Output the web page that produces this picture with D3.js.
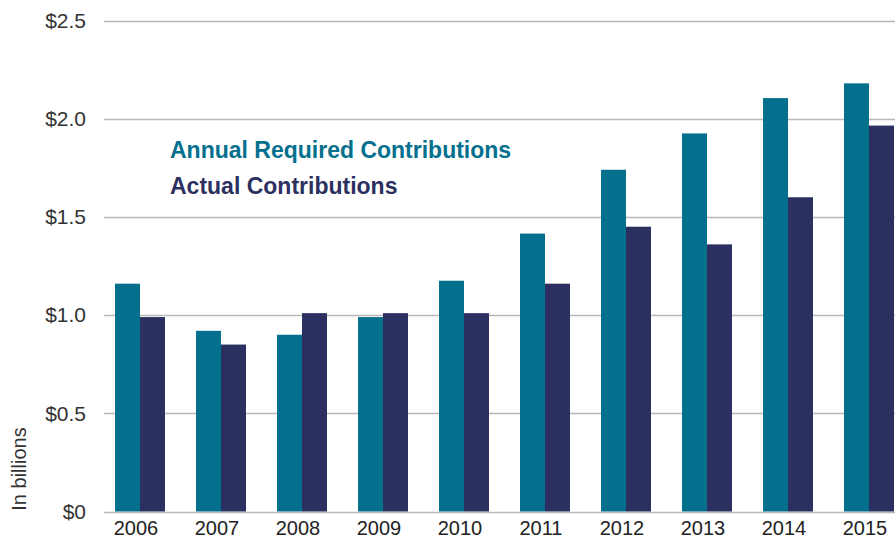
<!DOCTYPE html>
<html>
<head>
<meta charset="utf-8">
<script src="https://cdn.jsdelivr.net/npm/d3@7"></script>
<style>
  body { margin: 0; background: #fff; }
  svg text { font-family: "Liberation Sans", "Helvetica Neue", Arial, sans-serif; }
</style>
</head>
<body>
<div id="chart"></div>
<script>
// values (billions of dollars)
var years = ["2006","2007","2008","2009","2010","2011","2012","2013","2014","2015"];
var required = [1.16, 0.92, 0.90, 0.99, 1.175, 1.415, 1.74, 1.925, 2.105, 2.18];
var actual   = [0.99, 0.85, 1.01, 1.01, 1.01, 1.16, 1.45, 1.36, 1.60, 1.965];
var yTicks = [0, 0.5, 1.0, 1.5, 2.0, 2.5];
var seriesNames = ["Annual Required Contributions", "Actual Contributions"];
var seriesColors = ["#04708e", "#2c3060"];

var W = 895, H = 541;
var svg = d3.select("#chart").append("svg")
  .attr("width", W).attr("height", H);

// scales
var x = d3.scaleBand().domain(years).range([99.5, 909.5])
  .paddingInner(0.383).paddingOuter(0.1915);
var x1 = d3.scaleBand().domain([0, 1]).range([0, x.bandwidth()]);
var y = d3.scaleLinear().domain([0, 2.5]).range([511.5, 20.5]);

// gridlines
svg.append("g").selectAll("line")
  .data(yTicks).enter().append("line")
  .attr("x1", 104).attr("x2", W)
  .attr("y1", function(d) { return Math.round(y(d)) + 0.5; })
  .attr("y2", function(d) { return Math.round(y(d)) + 0.5; })
  .attr("stroke", "#b8b8b8").attr("stroke-width", 1.5);

// y tick labels
svg.append("g").selectAll("text")
  .data(yTicks).enter().append("text")
  .attr("x", 86)
  .attr("y", function(d) { return y(d); })
  .attr("dy", "0.35em")
  .attr("text-anchor", "end")
  .style("font-size", "21px")
  .style("fill", "#333")
  .text(function(d) { return d === 0 ? "$0" : "$" + d.toFixed(1); });

// bars
var groups = svg.append("g").selectAll("g")
  .data(years).enter().append("g")
  .attr("transform", function(d) { return "translate(" + x(d) + ",0)"; });

groups.append("rect")
  .attr("x", x1(0)).attr("width", x1.bandwidth())
  .attr("y", function(d, i) { return y(required[i]); })
  .attr("height", function(d, i) { return y(0) - y(required[i]); })
  .attr("fill", seriesColors[0]);

groups.append("rect")
  .attr("x", x1(1)).attr("width", x1.bandwidth())
  .attr("y", function(d, i) { return y(actual[i]); })
  .attr("height", function(d, i) { return y(0) - y(actual[i]); })
  .attr("fill", seriesColors[1]);

// x labels
svg.append("g").selectAll("text")
  .data(years).enter().append("text")
  .attr("x", function(d) { return x(d) + x.bandwidth() / 2 - 4; })
  .attr("y", 535)
  .attr("text-anchor", "middle")
  .style("font-size", "20px")
  .style("fill", "#222")
  .text(function(d) { return d; });

// axis title
svg.append("text")
  .attr("transform", "translate(26,469) rotate(-90)")
  .attr("text-anchor", "middle")
  .style("font-size", "20px")
  .style("fill", "#333")
  .text("In billions");

// legend (text only)
svg.append("g").selectAll("text")
  .data(seriesNames).enter().append("text")
  .attr("x", 170)
  .attr("y", function(d, i) { return 158 + i * 36; })
  .style("font-size", "23px")
  .style("font-weight", "bold")
  .style("fill", function(d, i) { return seriesColors[i]; })
  .text(function(d) { return d; });
</script>
</body>
</html>
